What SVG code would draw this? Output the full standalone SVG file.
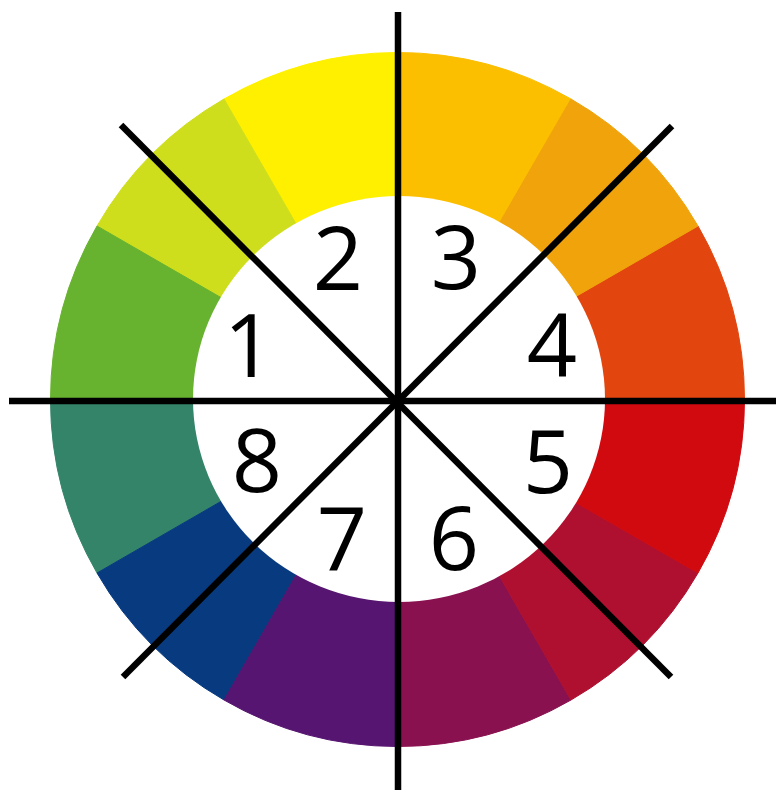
<svg xmlns="http://www.w3.org/2000/svg" width="776" height="794" viewBox="0 0 776 794">
<style>
.seg{stroke-width:1}
.ln{stroke:#000;stroke-width:6.5;fill:none}
.num{font-family:"Open Sans","Liberation Sans",sans-serif;font-size:88px;fill:#000;text-anchor:middle}
</style>
<rect width="776" height="794" fill="#fff"/>
<g id="wheel">
<path class="seg" fill="#FBBF00" stroke="#FBBF00" d="M397.5 399.5 L571 99 A347 347 0 0 0 397.5 52.5 Z"/>
<path class="seg" fill="#FFF000" stroke="#FFF000" d="M397.5 399.5 L397.5 52.5 A347 347 0 0 0 224 99 Z"/>
<path class="seg" fill="#CFDE1C" stroke="#CFDE1C" d="M397.5 399.5 L224 99 A347 347 0 0 0 97 226 Z"/>
<path class="seg" fill="#67B22F" stroke="#67B22F" d="M397.5 399.5 L97 226 A347 347 0 0 0 50.5 399.5 Z"/>
<path class="seg" fill="#338468" stroke="#338468" d="M397.5 399.5 L50.5 399.5 A347 347 0 0 0 97 573 Z"/>
<path class="seg" fill="#083A80" stroke="#083A80" d="M397.5 399.5 L97 573 A347 347 0 0 0 224 700 Z"/>
<path class="seg" fill="#561570" stroke="#561570" d="M397.5 399.5 L224 700 A347 347 0 0 0 397.5 746.5 Z"/>
<path class="seg" fill="#8A1150" stroke="#8A1150" d="M397.5 399.5 L397.5 746.5 A347 347 0 0 0 571 700 Z"/>
<path class="seg" fill="#B0102F" stroke="#B0102F" d="M397.5 399.5 L571 700 A347 347 0 0 0 698 573 Z"/>
<path class="seg" fill="#D10A10" stroke="#D10A10" d="M397.5 399.5 L698 573 A347 347 0 0 0 744.5 399.5 Z"/>
<path class="seg" fill="#E3450F" stroke="#E3450F" d="M397.5 399.5 L744.5 399.5 A347 347 0 0 0 698 226 Z"/>
<path class="seg" fill="#F0A30A" stroke="#F0A30A" d="M397.5 399.5 L698 226 A347 347 0 0 0 571 99 Z"/>
<ellipse cx="399" cy="399" rx="206" ry="203" fill="#fff"/>
</g>
<g id="connectors">
<line class="ln" x1="398" y1="12" x2="398" y2="790"/>
<line class="ln" x1="9" y1="401" x2="776" y2="401"/>
<line class="ln" x1="121" y1="125" x2="671" y2="677"/>
<line class="ln" x1="672" y1="126" x2="123" y2="677"/>
</g>
<g id="n1"><text class="num" x="249" y="377">1</text></g>
<g id="n2"><text class="num" x="338" y="290">2</text></g>
<g id="n3"><text class="num" x="456" y="289">3</text></g>
<g id="n4"><text class="num" x="552" y="377">4</text></g>
<g id="n5"><text class="num" x="548" y="493">5</text></g>
<g id="n6"><text class="num" x="454" y="570">6</text></g>
<g id="n7"><text class="num" x="342" y="570">7</text></g>
<g id="n8"><text class="num" x="257" y="492">8</text></g>
</svg>
